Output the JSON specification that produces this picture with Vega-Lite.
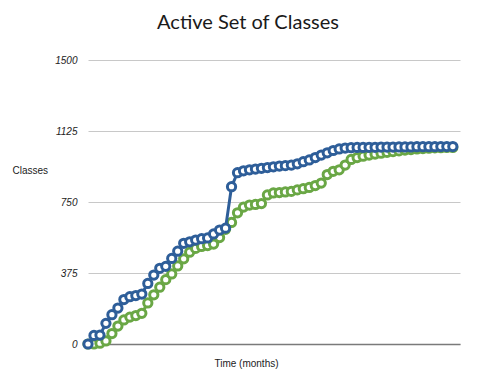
{
  "$schema": "https://vega.github.io/schema/vega-lite/v6.json",
  "autosize": {"type": "none"},
  "padding": {"left": 88, "top": 60, "right": 20, "bottom": 26},
  "width": 372,
  "height": 284,
  "background": "white",
  "title": {
    "text": "Active Set of Classes",
    "font": "Lato",
    "fontSize": 20,
    "fontWeight": "normal",
    "color": "#1a1a1a",
    "anchor": "middle",
    "dx": -26,
    "baseline": "alphabetic",
    "offset": 6
  },
  "config": {
    "view": {"stroke": null},
    "axis": {"labelFont": "Liberation Sans", "titleFont": "Liberation Sans"}
  },
  "datasets": {
    "series": [
      {"month": 0, "series": "Green", "classes": 0},
      {"month": 1, "series": "Green", "classes": 0},
      {"month": 2, "series": "Green", "classes": 4},
      {"month": 3, "series": "Green", "classes": 16},
      {"month": 4, "series": "Green", "classes": 55},
      {"month": 5, "series": "Green", "classes": 95},
      {"month": 6, "series": "Green", "classes": 127},
      {"month": 7, "series": "Green", "classes": 142},
      {"month": 8, "series": "Green", "classes": 150},
      {"month": 9, "series": "Green", "classes": 162},
      {"month": 10, "series": "Green", "classes": 217},
      {"month": 11, "series": "Green", "classes": 260},
      {"month": 12, "series": "Green", "classes": 300},
      {"month": 13, "series": "Green", "classes": 340},
      {"month": 14, "series": "Green", "classes": 370},
      {"month": 15, "series": "Green", "classes": 412},
      {"month": 16, "series": "Green", "classes": 450},
      {"month": 17, "series": "Green", "classes": 485},
      {"month": 18, "series": "Green", "classes": 505},
      {"month": 19, "series": "Green", "classes": 515},
      {"month": 20, "series": "Green", "classes": 520},
      {"month": 21, "series": "Green", "classes": 528},
      {"month": 22, "series": "Green", "classes": 562},
      {"month": 23, "series": "Green", "classes": 606},
      {"month": 24, "series": "Green", "classes": 642},
      {"month": 25, "series": "Green", "classes": 693},
      {"month": 26, "series": "Green", "classes": 723},
      {"month": 27, "series": "Green", "classes": 734},
      {"month": 28, "series": "Green", "classes": 737},
      {"month": 29, "series": "Green", "classes": 742},
      {"month": 30, "series": "Green", "classes": 787},
      {"month": 31, "series": "Green", "classes": 798},
      {"month": 32, "series": "Green", "classes": 800},
      {"month": 33, "series": "Green", "classes": 803},
      {"month": 34, "series": "Green", "classes": 806},
      {"month": 35, "series": "Green", "classes": 814},
      {"month": 36, "series": "Green", "classes": 820},
      {"month": 37, "series": "Green", "classes": 827},
      {"month": 38, "series": "Green", "classes": 837},
      {"month": 39, "series": "Green", "classes": 850},
      {"month": 40, "series": "Green", "classes": 895},
      {"month": 41, "series": "Green", "classes": 912},
      {"month": 42, "series": "Green", "classes": 920},
      {"month": 43, "series": "Green", "classes": 945},
      {"month": 44, "series": "Green", "classes": 975},
      {"month": 45, "series": "Green", "classes": 985},
      {"month": 46, "series": "Green", "classes": 992},
      {"month": 47, "series": "Green", "classes": 998},
      {"month": 48, "series": "Green", "classes": 1003},
      {"month": 49, "series": "Green", "classes": 1008},
      {"month": 50, "series": "Green", "classes": 1012},
      {"month": 51, "series": "Green", "classes": 1016},
      {"month": 52, "series": "Green", "classes": 1020},
      {"month": 53, "series": "Green", "classes": 1024},
      {"month": 54, "series": "Green", "classes": 1027},
      {"month": 55, "series": "Green", "classes": 1030},
      {"month": 56, "series": "Green", "classes": 1032},
      {"month": 57, "series": "Green", "classes": 1034},
      {"month": 58, "series": "Green", "classes": 1036},
      {"month": 59, "series": "Green", "classes": 1037},
      {"month": 60, "series": "Green", "classes": 1038},
      {"month": 61, "series": "Green", "classes": 1038},
      {"month": 0, "series": "Blue", "classes": 0},
      {"month": 1, "series": "Blue", "classes": 45},
      {"month": 2, "series": "Blue", "classes": 47},
      {"month": 3, "series": "Blue", "classes": 109},
      {"month": 4, "series": "Blue", "classes": 155},
      {"month": 5, "series": "Blue", "classes": 190},
      {"month": 6, "series": "Blue", "classes": 235},
      {"month": 7, "series": "Blue", "classes": 250},
      {"month": 8, "series": "Blue", "classes": 256},
      {"month": 9, "series": "Blue", "classes": 264},
      {"month": 10, "series": "Blue", "classes": 320},
      {"month": 11, "series": "Blue", "classes": 364},
      {"month": 12, "series": "Blue", "classes": 400},
      {"month": 13, "series": "Blue", "classes": 410},
      {"month": 14, "series": "Blue", "classes": 452},
      {"month": 15, "series": "Blue", "classes": 490},
      {"month": 16, "series": "Blue", "classes": 532},
      {"month": 17, "series": "Blue", "classes": 540},
      {"month": 18, "series": "Blue", "classes": 549},
      {"month": 19, "series": "Blue", "classes": 556},
      {"month": 20, "series": "Blue", "classes": 560},
      {"month": 21, "series": "Blue", "classes": 581},
      {"month": 22, "series": "Blue", "classes": 602},
      {"month": 23, "series": "Blue", "classes": 612},
      {"month": 24, "series": "Blue", "classes": 831},
      {"month": 25, "series": "Blue", "classes": 905},
      {"month": 26, "series": "Blue", "classes": 915},
      {"month": 27, "series": "Blue", "classes": 920},
      {"month": 28, "series": "Blue", "classes": 924},
      {"month": 29, "series": "Blue", "classes": 928},
      {"month": 30, "series": "Blue", "classes": 932},
      {"month": 31, "series": "Blue", "classes": 936},
      {"month": 32, "series": "Blue", "classes": 940},
      {"month": 33, "series": "Blue", "classes": 942},
      {"month": 34, "series": "Blue", "classes": 945},
      {"month": 35, "series": "Blue", "classes": 952},
      {"month": 36, "series": "Blue", "classes": 963},
      {"month": 37, "series": "Blue", "classes": 972},
      {"month": 38, "series": "Blue", "classes": 985},
      {"month": 39, "series": "Blue", "classes": 998},
      {"month": 40, "series": "Blue", "classes": 1010},
      {"month": 41, "series": "Blue", "classes": 1022},
      {"month": 42, "series": "Blue", "classes": 1030},
      {"month": 43, "series": "Blue", "classes": 1035},
      {"month": 44, "series": "Blue", "classes": 1037},
      {"month": 45, "series": "Blue", "classes": 1038},
      {"month": 46, "series": "Blue", "classes": 1038},
      {"month": 47, "series": "Blue", "classes": 1039},
      {"month": 48, "series": "Blue", "classes": 1039},
      {"month": 49, "series": "Blue", "classes": 1040},
      {"month": 50, "series": "Blue", "classes": 1040},
      {"month": 51, "series": "Blue", "classes": 1040},
      {"month": 52, "series": "Blue", "classes": 1041},
      {"month": 53, "series": "Blue", "classes": 1041},
      {"month": 54, "series": "Blue", "classes": 1041},
      {"month": 55, "series": "Blue", "classes": 1042},
      {"month": 56, "series": "Blue", "classes": 1042},
      {"month": 57, "series": "Blue", "classes": 1042},
      {"month": 58, "series": "Blue", "classes": 1042},
      {"month": 59, "series": "Blue", "classes": 1043},
      {"month": 60, "series": "Blue", "classes": 1043},
      {"month": 61, "series": "Blue", "classes": 1043}
    ]
  },
  "data": {"name": "series"},
  "encoding": {
    "x": {
      "field": "month",
      "type": "quantitative",
      "scale": {"domain": [0, 62.2], "nice": false, "zero": false},
      "axis": {
        "title": "Time (months)",
        "titleFontSize": 10,
        "titleFontWeight": "normal",
        "titleColor": "#222",
        "titleX": 158,
        "titleY": 22,
        "titleAlign": "center",
        "titleBaseline": "alphabetic",
        "labels": false,
        "ticks": false,
        "grid": false,
        "domainColor": "#7a7a7a",
        "domainWidth": 1.5
      }
    },
    "y": {
      "field": "classes",
      "type": "quantitative",
      "scale": {"domain": [0, 1500], "nice": false},
      "axis": {
        "values": [0, 375, 750, 1125, 1500],
        "format": "d",
        "title": "Classes",
        "titleAngle": 0,
        "titleFontSize": 10,
        "titleFontWeight": "normal",
        "titleColor": "#222",
        "titleAlign": "left",
        "titleBaseline": "alphabetic",
        "titleX": -76,
        "titleY": 113,
        "labelFontSize": 10,
        "labelFontStyle": "italic",
        "labelColor": "#222",
        "labelPadding": 11,
        "ticks": false,
        "domain": false,
        "grid": true,
        "gridColor": "#c8c8c8",
        "gridWidth": 1
      }
    }
  },
  "layer": [
    {
      "transform": [{"filter": "datum.series === 'Green'"}],
      "mark": {"type": "line", "color": "#6aa745", "strokeWidth": 3}
    },
    {
      "transform": [{"filter": "datum.series === 'Green'"}],
      "mark": {"type": "point", "shape": "circle", "filled": true, "fill": "white", "stroke": "#6aa745", "strokeWidth": 3, "size": 68, "opacity": 1}
    },
    {
      "transform": [{"filter": "datum.series === 'Blue'"}],
      "mark": {"type": "line", "color": "#2e5e99", "strokeWidth": 3}
    },
    {
      "transform": [{"filter": "datum.series === 'Blue'"}],
      "mark": {"type": "point", "shape": "circle", "filled": true, "fill": "white", "stroke": "#2e5e99", "strokeWidth": 3, "size": 68, "opacity": 1}
    }
  ]
}
